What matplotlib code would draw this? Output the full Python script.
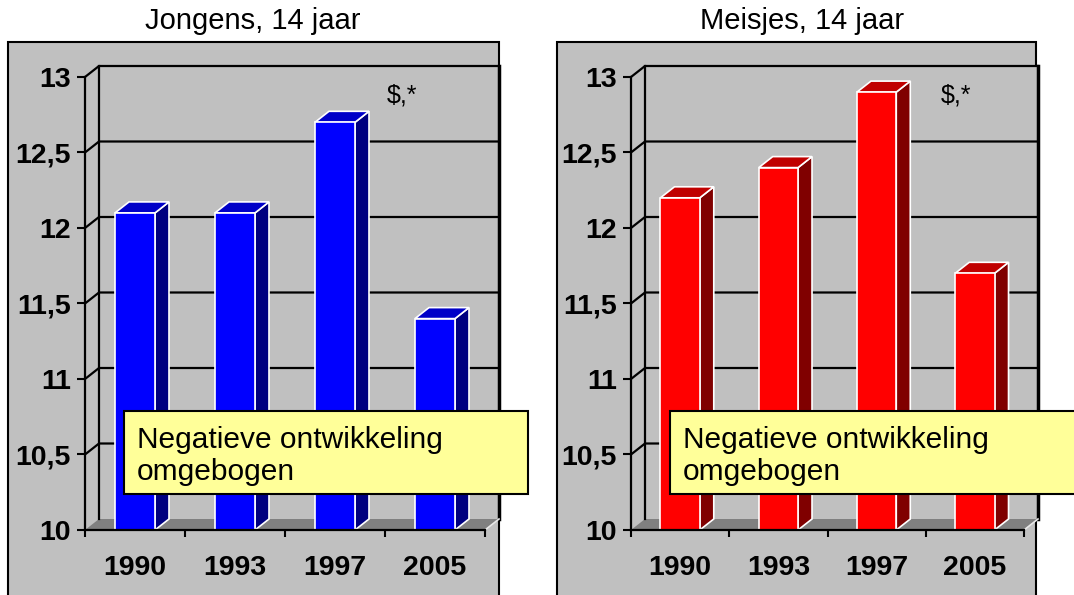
import matplotlib.pyplot as plt
from matplotlib.patches import Rectangle, Polygon

plt.rcParams['font.family'] = ['Liberation Sans', 'DejaVu Sans']

years = ['1990', '1993', '1997', '2005']
jongens = [12.1, 12.1, 12.7, 11.4]
meisjes = [12.2, 12.4, 12.9, 11.7]
titles = ['Jongens, 14 jaar', 'Meisjes, 14 jaar']
yticks = [10, 10.5, 11, 11.5, 12, 12.5, 13]
ytick_labels = ['10', '10,5', '11', '11,5', '12', '12,5', '13']
note = 'Negatieve ontwikkeling\nomgebogen'
marker = '$,*'

W, H = 1074, 595
GRAY = '#c0c0c0'
FLOOR = '#808080'


def fx(x):
    return x / W


def fy(y):
    return 1 - y / H


fig = plt.figure(figsize=(W / 100, H / 100), dpi=100)

# panel layout in pixels: grey frame, front axis plane, note box, title / marker x
panels = [
    dict(frame=(8, 499), plane=(85, 485), note=(124, 528), title_x=253, mark_x=402,
         values=jongens, colors=('#0000ff', '#000080', '#0000c8')),
    dict(frame=(557, 1036), plane=(631, 1024), note=(670, 1080), title_x=802, mark_x=956,
         values=meisjes, colors=('#ff0000', '#800000', '#c00000')),
]

y_top, y_bot = 77, 530  # pixel rows of 13 and 10 on the front axis

for p, title in zip(panels, titles):
    f0, f1 = p['frame']
    fig.add_artist(Rectangle((fx(f0), fy(640)), fx(f1 - f0), (640 - 42) / H,
                             transform=fig.transFigure, fc=GRAY, ec='black',
                             lw=1.5, zorder=-1))
    fig.text(fx(p['title_x']), fy(21), title, ha='center', va='center', fontsize=21)

    x0, x1 = p['plane']
    ax = fig.add_axes([fx(x0), fy(y_bot), fx(x1 - x0), (y_bot - y_top) / H])
    ax.set_facecolor('none')
    n = len(years)
    ax.set_xlim(0, n)
    ax.set_ylim(10, 13)

    # 3D depth converted to data units
    dx = 14 / ((x1 - x0) / n)
    dy = 11 / ((y_bot - y_top) / 3)

    # back wall, side wall, floor
    ax.add_patch(Rectangle((dx, 10 + dy), n, 3, fc=GRAY, ec='none', zorder=0.5, clip_on=False))
    ax.add_patch(Polygon([(0, 10), (n, 10), (n + dx, 10 + dy), (dx, 10 + dy)],
                         closed=True, fc=FLOOR, ec='none', zorder=1, clip_on=False))
    for yv in yticks[1:]:
        ax.plot([0, dx, n + dx], [yv, yv + dy, yv + dy], color='black', lw=1.6,
                zorder=1.5, clip_on=False, solid_capstyle='projecting')
    ax.plot([dx, dx], [10 + dy, 13 + dy], color='black', lw=1.6, zorder=1.5, clip_on=False)
    ax.plot([n + dx, n + dx], [10 + dy, 13 + dy], color='black', lw=2.5, zorder=1.5, clip_on=False)
    ax.plot([n, n + dx], [10, 10 + dy], color='#e8e8e8', lw=1.2, zorder=1.6, clip_on=False)

    # 3D columns
    front, side, top = p['colors']
    w = 0.4
    for i, v in enumerate(p['values']):
        c = i + 0.5
        ax.add_patch(Polygon([(c + w / 2, 10), (c + w / 2 + dx, 10 + dy),
                              (c + w / 2 + dx, v + dy), (c + w / 2, v)],
                             closed=True, fc=side, ec='white', lw=1.2, zorder=2, clip_on=False))
        ax.add_patch(Polygon([(c - w / 2, v), (c + w / 2, v),
                              (c + w / 2 + dx, v + dy), (c - w / 2 + dx, v + dy)],
                             closed=True, fc=top, ec='white', lw=1.2, zorder=2, clip_on=False))
    ax.bar([i + 0.5 for i in range(n)], [v - 10 for v in p['values']], bottom=10,
           width=w, color=front, edgecolor='white', lw=1.2, zorder=2.2)

    for s in ['top', 'right']:
        ax.spines[s].set_visible(False)
    for s in ['left', 'bottom']:
        ax.spines[s].set_linewidth(1.6)
        ax.spines[s].set_zorder(3)

    ax.set_yticks(yticks)
    ax.set_yticklabels(ytick_labels, fontsize=20.5, fontweight='bold')
    ax.tick_params(axis='y', length=6, width=1.5, pad=4)
    ax.set_xticks(range(n + 1))
    ax.set_xticklabels([])
    ax.tick_params(axis='x', which='major', length=5, width=1.5)
    ax.set_xticks([i + 0.5 for i in range(n)], minor=True)
    ax.set_xticklabels(years, minor=True, fontsize=20.5, fontweight='bold')
    ax.tick_params(axis='x', which='minor', length=0, pad=18)

    fig.text(fx(p['mark_x']), fy(95), marker, ha='center', va='center',
             fontsize=18, parse_math=False)

    # note box
    n0, n1 = p['note']
    fig.add_artist(Rectangle((fx(n0), fy(494)), fx(n1 - n0), (494 - 411) / H,
                             transform=fig.transFigure, fc='#ffff99', ec='black',
                             lw=1.5, zorder=5))
    fig.text(fx(n0 + 13), fy(456), note, ha='left', va='center', fontsize=21.5,
             linespacing=1.2, zorder=6)

fig.savefig('out.png', dpi=100)
